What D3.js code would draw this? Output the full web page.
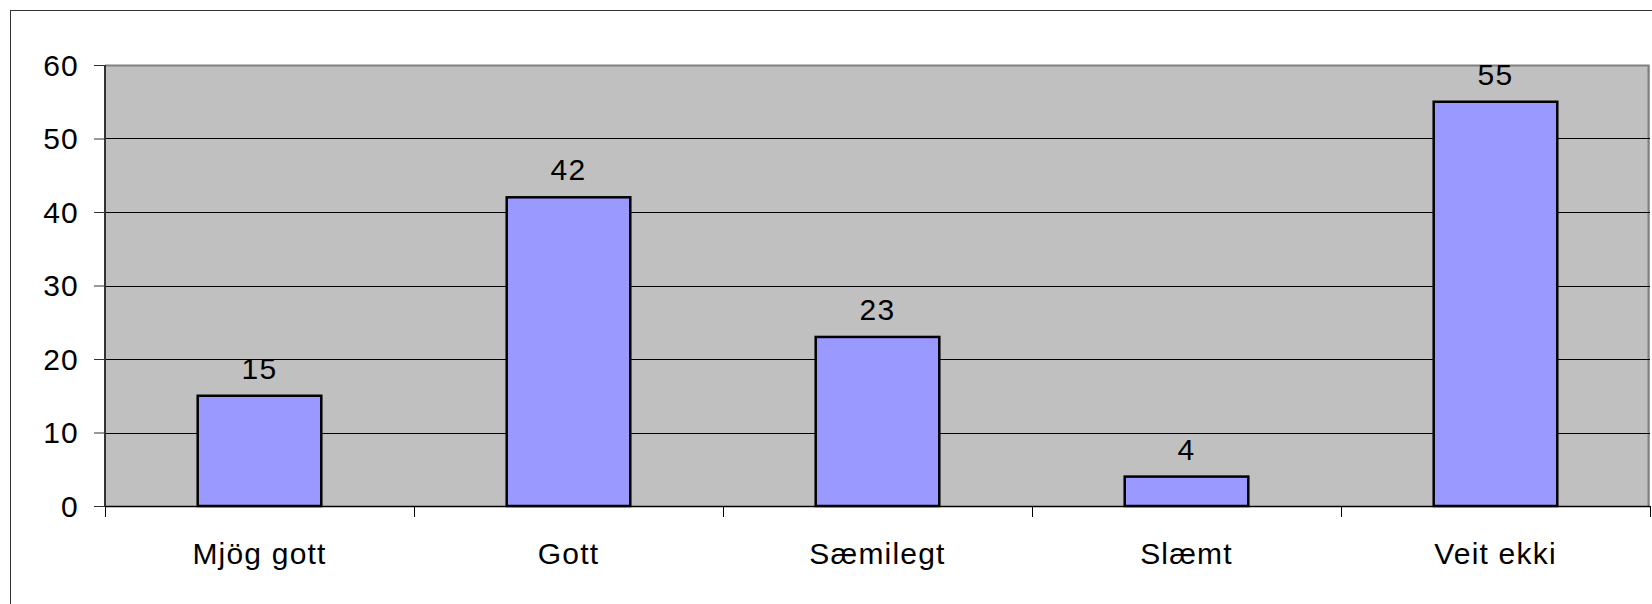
<!DOCTYPE html>
<html><head><meta charset="utf-8">
<script src="https://cdn.jsdelivr.net/npm/d3@7"></script>
<style>html,body{margin:0;padding:0;background:#fff;}svg{display:block;}</style>
</head><body>
<svg id="chart" width="1652" height="604"></svg>
<script>
const categories = ["Mjög gott", "Gott", "Sæmilegt", "Slæmt", "Veit ekki"];
const values = [15, 42, 23, 4, 55];
const yTicks = [0, 10, 20, 30, 40, 50, 60];

const W = 1652, H = 604;
const m = {left: 105, top: 65, right: 2, bottom: 98};
const pw = W - m.left - m.right, ph = H - m.top - m.bottom;
const svg = d3.select("#chart");
const font = "'Liberation Sans', Arial, sans-serif";
const fs = 30, ls = "1.2px";

// outer frame
svg.append("rect").attr("x", 10.5).attr("y", 10.5).attr("width", W).attr("height", H)
  .attr("fill", "#fff").attr("stroke", "#333").attr("stroke-width", 1);

const g = svg.append("g").attr("transform", `translate(${m.left},${m.top})`);
const x = d3.scaleBand().domain(categories).range([0, pw]).paddingInner(0.6).paddingOuter(0.3);
const xb = d3.scaleBand().domain(categories).range([0, pw]);
const y = d3.scaleLinear().domain([0, 60]).range([ph, 0]);

// plot area
g.append("rect").attr("x", 0).attr("y", 0).attr("width", pw).attr("height", ph).attr("fill", "#c0c0c0");
g.append("path").attr("d", `M0,0.5H${pw - 1.5}V${ph}`).attr("fill", "none").attr("stroke", "#808080").attr("stroke-width", 2);

// gridlines
g.selectAll(".grid").data(yTicks.filter(d => d > 0 && d < 60)).join("line")
  .attr("x1", 0).attr("x2", pw).attr("y1", d => Math.round(y(d)) + 0.5).attr("y2", d => Math.round(y(d)) + 0.5)
  .attr("stroke", "#000").attr("stroke-width", 1);

// bars
g.selectAll(".bar").data(values).join("rect")
  .attr("x", (d, i) => x(categories[i]))
  .attr("y", d => y(d))
  .attr("width", x.bandwidth())
  .attr("height", d => ph - y(d))
  .attr("fill", "#9999ff").attr("stroke", "#000").attr("stroke-width", 2.5);

// value labels
g.selectAll(".val").data(values).join("text")
  .attr("x", (d, i) => x(categories[i]) + x.bandwidth() / 2)
  .attr("y", d => y(d) - 17)
  .attr("text-anchor", "middle").attr("font-family", font).attr("font-size", fs)
  .attr("letter-spacing", ls).attr("fill", "#000")
  .text(d => d);

// y axis
const ya = g.append("g").call(d3.axisLeft(y).tickValues(yTicks).tickSize(11).tickPadding(15).tickFormat(d3.format("d")));
ya.select(".domain").attr("stroke", "#333").attr("stroke-width", 2).attr("d", `M0,0V${ph}`);
ya.selectAll(".tick line").attr("stroke", "#333");
ya.selectAll("text").attr("font-family", font).attr("font-size", fs).attr("letter-spacing", ls)
  .attr("fill", "#000").attr("dy", "0.34em");

// x axis
const xa = g.append("g").attr("transform", `translate(0,${ph})`)
  .call(d3.axisBottom(xb).tickSize(0).tickPadding(0));
xa.select(".domain").attr("stroke", "#000").attr("stroke-width", 1.5).attr("d", `M0,0.5H${pw}`);
xa.selectAll(".tick text").attr("font-family", font).attr("font-size", fs).attr("letter-spacing", ls)
  .attr("fill", "#000").attr("dy", 0).attr("y", 58);
xa.selectAll(".tick line").remove();
// category boundary ticks
xa.selectAll(".bt").data(d3.range(categories.length + 1)).join("line")
  .attr("x1", i => Math.round(i * xb.step()) + 0.5).attr("x2", i => Math.round(i * xb.step()) + 0.5)
  .attr("y1", 0).attr("y2", 11).attr("stroke", "#000").attr("stroke-width", 1);
</script>
</body></html>
